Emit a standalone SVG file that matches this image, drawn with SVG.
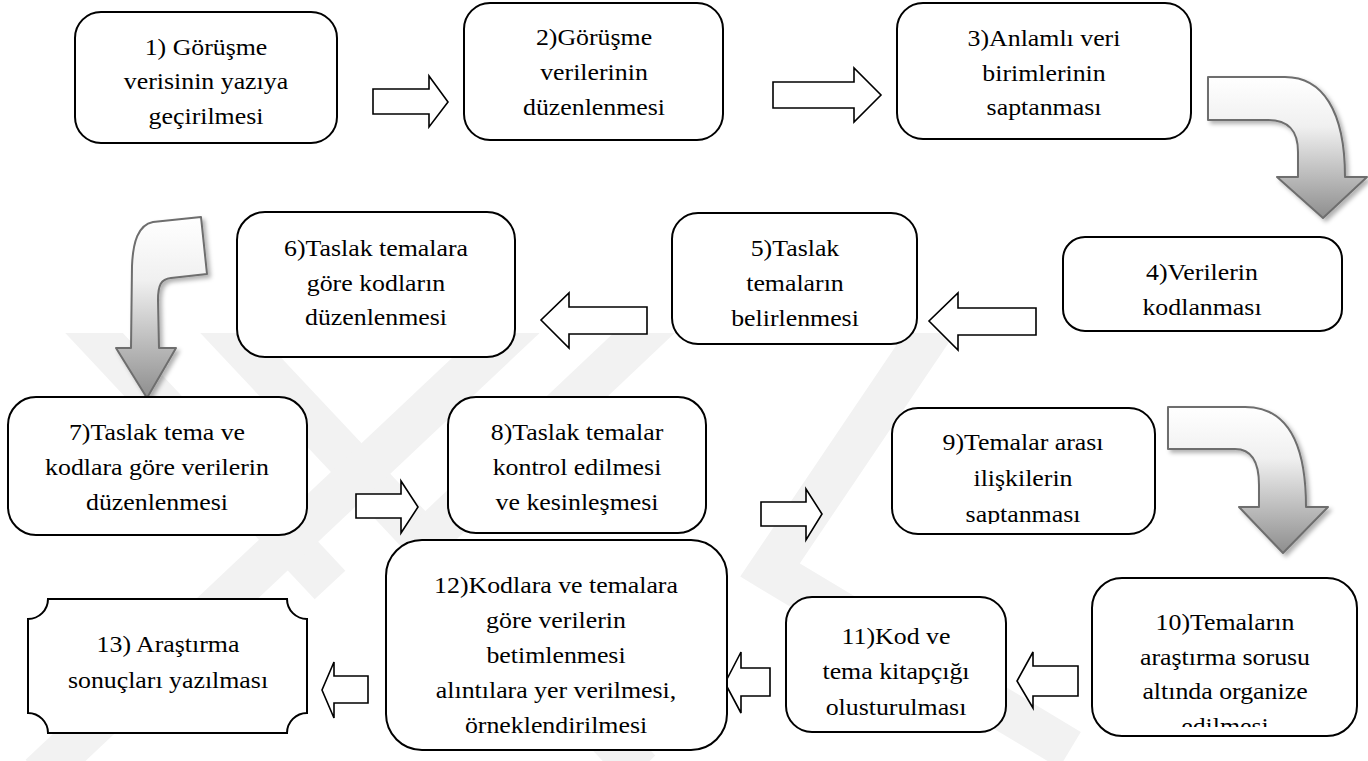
<svg xmlns="http://www.w3.org/2000/svg" width="1368" height="761" viewBox="0 0 1368 761">
  <defs>
    <style>
      .box { fill: #ffffff; stroke: #000000; stroke-width: 2; }
      .blk { fill: #ffffff; stroke: #000000; stroke-width: 1.6; stroke-linejoin: miter; }
      .curve { fill: url(#curveFill); stroke: #6e6e6e; stroke-width: 2; stroke-linejoin: round; filter: url(#soft); }
      text { font-family: 'Liberation Serif', 'Times New Roman', serif; font-size: 23.5px; fill: #000000; text-anchor: middle; }
      .wm { stroke: #f2f2f2; stroke-width: 42; fill: none; stroke-linecap: butt; }
    </style>
    <linearGradient id="curveFill" x1="0" y1="0" x2="0" y2="1">
      <stop offset="0" stop-color="#ffffff"/>
      <stop offset="0.35" stop-color="#f0f0f0"/>
      <stop offset="1" stop-color="#8e8e8e"/>
    </linearGradient>
    <filter id="soft" x="-20%" y="-20%" width="140%" height="140%">
      <feDropShadow dx="3" dy="3" stdDeviation="2" flood-color="#000000" flood-opacity="0.3"/>
    </filter>
    <clipPath id="wmClip">
      <rect x="0" y="333" width="1368" height="428"/>
    </clipPath>
    <clipPath id="clip9">
      <rect x="880" y="400" width="290" height="124"/>
    </clipPath>
    <clipPath id="clip10">
      <rect x="1085" y="570" width="280" height="157"/>
    </clipPath>
  </defs>

  <rect x="0" y="0" width="1368" height="761" fill="#ffffff"/>

  <!-- faint background emblem -->
  <g id="watermark" clip-path="url(#wmClip)">
    <line class="wm" x1="80" y1="318" x2="330" y2="585"/>
    <line class="wm" x1="215" y1="318" x2="640" y2="770"/>
    <line class="wm" x1="525" y1="318" x2="40" y2="775"/>
    <line class="wm" x1="660" y1="318" x2="420" y2="545"/>
    <polyline class="wm" points="940,318 770,570 1070,750"/>
  </g>

  <!-- connectors -->
  <g id="connectors">
    <polygon class="blk" points="373,89 429,89 429,76 448,102 429,127 429,114 373,114"/>
    <polygon class="blk" points="773,82 854,82 854,68 881,95 854,122 854,108 773,108"/>
    <polygon class="blk" points="1036,308 958,308 958,293 929,321 958,350 958,335 1036,335"/>
    <polygon class="blk" points="647,307 569,307 569,293 541,320 569,348 569,334 647,334"/>
    <polygon class="blk" points="356,494 401,494 401,481 418,507 401,533 401,518 356,518"/>
    <polygon class="blk" points="761,502 806,502 806,489 822,514 806,540 806,526 761,526"/>
    <polygon class="blk" points="1078,666 1033,666 1033,652 1017,681 1033,708 1033,696 1078,696"/>
    <polygon class="blk" points="770,668 741,668 741,652 725,683 741,713 741,696 770,696"/>
    <polygon class="blk" points="368,676 334,676 334,662 322,690 334,718 334,703 368,703"/>

    <path class="curve" d="M1208,77 H1285 C1322,77 1345,110 1345,177 H1367 L1323,218 L1277,177 H1298 V152 C1298,131 1289,120 1268,120 H1208 Z"/>
    <path class="curve" d="M201,217 L153,222 C138,225 133,242 132,266 L131,348 H116 L147,398 L176,348 H159 L158,300 C158,285 161,279 171,278 L207,274 Z"/>
    <path class="curve" d="M1168,407 H1245 C1285,407 1306,440 1306,507 H1328 L1283,553 L1239,507 H1259 V485 C1259,462 1252,449 1235,449 H1168 Z"/>
  </g>

  <g id="node1">
    <rect class="box" x="75" y="12" width="262" height="131" rx="26"/>
    <g transform="translate(206 0) scale(1.1 1)">
      <text x="0" y="55">1) Görüşme</text>
      <text x="0" y="89">verisinin yazıya</text>
      <text x="0" y="124">geçirilmesi</text>
    </g>
  </g>

  <g id="node2">
    <rect class="box" x="464" y="3" width="259" height="137" rx="26"/>
    <g transform="translate(594 0) scale(1.1 1)">
      <text x="0" y="45">2)Görüşme</text>
      <text x="0" y="80">verilerinin</text>
      <text x="0" y="115">düzenlenmesi</text>
    </g>
  </g>

  <g id="node3">
    <rect class="box" x="897" y="3" width="294" height="136" rx="26"/>
    <g transform="translate(1044 0) scale(1.1 1)">
      <text x="0" y="46">3)Anlamlı veri</text>
      <text x="0" y="81">birimlerinin</text>
      <text x="0" y="115">saptanması</text>
    </g>
  </g>

  <g id="node4">
    <rect class="box" x="1063" y="237" width="279" height="94" rx="22"/>
    <g transform="translate(1202 0) scale(1.1 1)">
      <text x="0" y="280">4)Verilerin</text>
      <text x="0" y="315">kodlanması</text>
    </g>
  </g>

  <g id="node5">
    <rect class="box" x="672" y="213" width="245" height="131" rx="26"/>
    <g transform="translate(795 0) scale(1.1 1)">
      <text x="0" y="256">5)Taslak</text>
      <text x="0" y="291">temaların</text>
      <text x="0" y="326">belirlenmesi</text>
    </g>
  </g>

  <g id="node6">
    <rect class="box" x="237" y="212" width="278" height="145" rx="28"/>
    <g transform="translate(376 0) scale(1.1 1)">
      <text x="0" y="256">6)Taslak temalara</text>
      <text x="0" y="291">göre kodların</text>
      <text x="0" y="325">düzenlenmesi</text>
    </g>
  </g>

  <g id="node7">
    <rect class="box" x="8" y="397" width="299" height="138" rx="28"/>
    <g transform="translate(157 0) scale(1.1 1)">
      <text x="0" y="440">7)Taslak tema ve</text>
      <text x="0" y="475">kodlara göre verilerin</text>
      <text x="0" y="510">düzenlenmesi</text>
    </g>
  </g>

  <g id="node8">
    <rect class="box" x="448" y="397" width="258" height="136" rx="28"/>
    <g transform="translate(577 0) scale(1.1 1)">
      <text x="0" y="440">8)Taslak temalar</text>
      <text x="0" y="475">kontrol edilmesi</text>
      <text x="0" y="510">ve kesinleşmesi</text>
    </g>
  </g>

  <g id="node9">
    <rect class="box" x="892" y="408" width="263" height="126" rx="26"/>
    <g clip-path="url(#clip9)">
      <g transform="translate(1023 0) scale(1.1 1)">
        <text x="0" y="450">9)Temalar arası</text>
        <text x="0" y="486">ilişkilerin</text>
        <text x="0" y="522">saptanması</text>
      </g>
    </g>
  </g>

  <g id="node10">
    <rect class="box" x="1092" y="578" width="265" height="158" rx="30"/>
    <g clip-path="url(#clip10)">
      <g transform="translate(1225 0) scale(1.1 1)">
        <text x="0" y="630">10)Temaların</text>
        <text x="0" y="665">araştırma sorusu</text>
        <text x="0" y="699">altında organize</text>
        <text x="0" y="734">edilmesi</text>
      </g>
    </g>
  </g>

  <g id="node11">
    <rect class="box" x="786" y="597" width="220" height="135" rx="26"/>
    <g transform="translate(896 0) scale(1.1 1)">
      <text x="0" y="644">11)Kod ve</text>
      <text x="0" y="679">tema kitapçığı</text>
      <text x="0" y="715">olusturulması</text>
    </g>
  </g>

  <g id="node12">
    <rect class="box" x="386" y="540" width="341" height="210" rx="36"/>
    <g transform="translate(556 0) scale(1.1 1)">
      <text x="0" y="593">12)Kodlara ve temalara</text>
      <text x="0" y="628">göre verilerin</text>
      <text x="0" y="663">betimlenmesi</text>
      <text x="0" y="698">alıntılara yer verilmesi,</text>
      <text x="0" y="733">örneklendirilmesi</text>
    </g>
  </g>

  <g id="node13">
    <path class="box" d="M48,599 H287 A20,20 0 0 0 307,619 V713 A20,20 0 0 0 287,733 H48 A20,20 0 0 0 28,713 V619 A20,20 0 0 0 48,599 Z"/>
    <g transform="translate(168 0) scale(1.1 1)">
      <text x="0" y="652">13) Araştırma</text>
      <text x="0" y="688">sonuçları yazılması</text>
    </g>
  </g>
</svg>
